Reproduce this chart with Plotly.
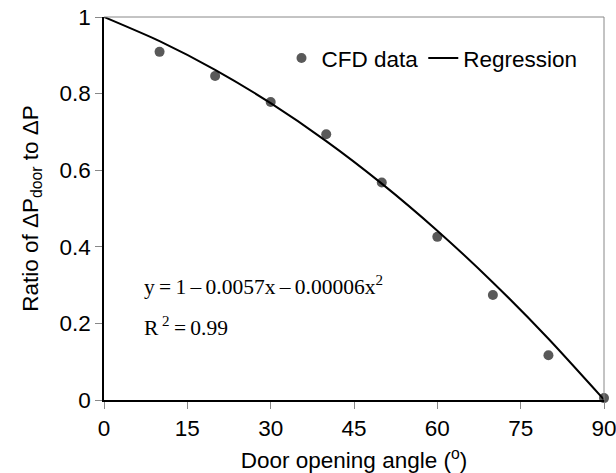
import plotly.graph_objects as go

# CFD data
cfd_angle = [10, 20, 30, 40, 50, 60, 70, 80, 90]
cfd_ratio = [0.909, 0.846, 0.778, 0.694, 0.568, 0.426, 0.274, 0.117, 0.005]

# Regression curve values
reg_angle = [0, 10, 20, 30, 40, 50, 60, 70, 80, 90]
reg_ratio = [1.0, 0.937, 0.862, 0.775, 0.676, 0.565, 0.442, 0.307, 0.160, 0.001]

x_ticks = [0, 15, 30, 45, 60, 75, 90]
y_ticks = [0, 0.2, 0.4, 0.6, 0.8, 1]
y_tick_labels = ["0", "0.2", "0.4", "0.6", "0.8", "1"]

font = "Liberation Sans"
serif = "Liberation Serif"
fs = 22.5

fig = go.Figure()
fig.add_trace(go.Scatter(
    x=cfd_angle, y=cfd_ratio, mode="markers", name="CFD data",
    marker=dict(color="#595959", size=10, symbol="circle"),
    cliponaxis=False,
))
fig.add_trace(go.Scatter(
    x=reg_angle, y=reg_ratio, mode="lines", name="Regression",
    line=dict(color="black", width=2, shape="spline", smoothing=0.6),
    cliponaxis=False,
))

ts = "\u2009"
fig.update_layout(
    width=616, height=473,
    margin=dict(l=104, r=12, t=17, b=73),
    paper_bgcolor="white", plot_bgcolor="white",
    font=dict(family=font, size=fs, color="black"),
    showlegend=True,
    legend=dict(orientation="h", x=0.355, y=0.892, xanchor="left", yanchor="middle",
                font=dict(family=font, size=fs), itemwidth=30,
                bgcolor="rgba(0,0,0,0)"),
    xaxis=dict(
        range=[0, 90], tickvals=x_ticks, ticks="outside", ticklen=7,
        tickcolor="#888888", showgrid=False, zeroline=False, automargin=False,
        ticklabeloverflow="allow",
        showline=True, linecolor="black", linewidth=1.5, mirror=False,
        title=dict(text="Door opening angle (<sup>o</sup>)",
                   font=dict(family=font, size=fs)),
        tickfont=dict(family=font, size=fs),
    ),
    yaxis=dict(
        range=[0, 1], tickvals=y_ticks, ticktext=y_tick_labels, ticks="outside",
        ticklen=7, tickcolor="#888888", showgrid=False, zeroline=False, automargin=False,
        ticklabeloverflow="allow",
        showline=True, linecolor="black", linewidth=1.5, mirror=False,
        title=dict(text="Ratio of ΔP<sub>door</sub> to ΔP",
                   font=dict(family=font, size=fs)),
        tickfont=dict(family=font, size=fs),
    ),
    shapes=[
        dict(type="line", xref="paper", yref="paper", x0=0, x1=1, y0=1, y1=1,
             line=dict(color="#888888", width=1)),
        dict(type="line", xref="paper", yref="paper", x0=1, x1=1, y0=0, y1=1,
             line=dict(color="#888888", width=1)),
    ],
    annotations=[
        dict(xref="paper", yref="paper", x=0.076, y=0.299, xanchor="left", yanchor="middle",
             text=f"y{ts}={ts}1{ts}–{ts}0.0057x{ts}–{ts}0.00006x<sup>2</sup>", showarrow=False,
             font=dict(family=serif, size=21.5)),
        dict(xref="paper", yref="paper", x=0.076, y=0.192, xanchor="left", yanchor="middle",
             text=f"R<sup> 2</sup>{ts}={ts}0.99", showarrow=False,
             font=dict(family=serif, size=21.5)),
    ],
)

fig.write_html("out.html", post_script="document.body.style.margin='0';",
               config={"displayModeBar": False})
